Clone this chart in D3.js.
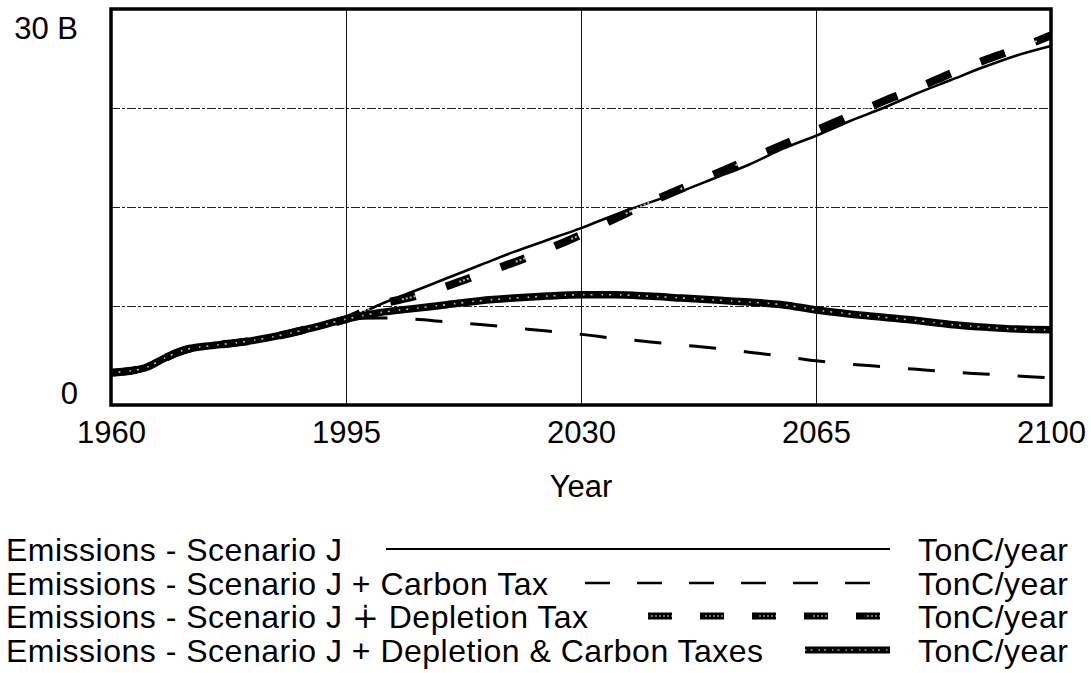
<!DOCTYPE html>
<html>
<head>
<meta charset="utf-8">
<script src="https://cdn.jsdelivr.net/npm/d3@7"></script>
<style>
  html, body { margin: 0; padding: 0; background: #fff; }
  svg { display: block; }
  text { font-family: "Liberation Sans", Arial, Helvetica, sans-serif; fill: #000; }
</style>
</head>
<body>
<svg id="chart" width="1091" height="673"></svg>
<script>
// Emissions scenarios, billions of tonnes of carbon per year
const years = [1960, 1963, 1965, 1968, 1970, 1972, 1975, 1980, 1985, 1990, 1995,
  2000, 2005, 2010, 2015, 2020, 2025, 2030, 2035, 2040, 2045, 2050,
  2055, 2060, 2065, 2070, 2075, 2080, 2085, 2090, 2095, 2100];

const emissionsJ = [2.45, 2.6, 2.8, 3.55, 4.0, 4.3, 4.5, 4.8, 5.25, 5.85, 6.5,
  7.6, 8.6, 9.6, 10.6, 11.6, 12.5, 13.4, 14.4, 15.3, 16.2, 17.2,
  18.2, 19.4, 20.4, 21.5, 22.5, 23.6, 24.6, 25.6, 26.5, 27.2];

const emissionsCarbonTax = [2.45, 2.6, 2.8, 3.55, 4.0, 4.3, 4.5, 4.8, 5.25, 5.85, 6.5,
  6.6, 6.5, 6.3, 6.1, 5.85, 5.6, 5.35, 5.05, 4.8, 4.55, 4.3,
  4.0, 3.7, 3.35, 3.1, 2.9, 2.7, 2.5, 2.35, 2.2, 2.05];

const emissionsDepletionTax = [2.45, 2.6, 2.8, 3.55, 4.0, 4.3, 4.5, 4.8, 5.25, 5.85, 6.5,
  7.6, 8.2, 9.0, 9.9, 10.8, 11.8, 12.9, 14.1, 15.3, 16.4, 17.5,
  18.6, 19.7, 20.8, 21.9, 23.0, 24.0, 25.1, 26.1, 27.0, 28.0];

const emissionsBothTaxes = [2.45, 2.6, 2.8, 3.55, 4.0, 4.3, 4.5, 4.8, 5.25, 5.85, 6.5,
  7.0, 7.3, 7.6, 7.9, 8.1, 8.25, 8.35, 8.35, 8.25, 8.1, 7.95,
  7.8, 7.6, 7.2, 6.9, 6.65, 6.4, 6.1, 5.9, 5.75, 5.7];

const seriesNames = [
  "Emissions - Scenario J",
  "Emissions - Scenario J + Carbon Tax",
  "Emissions - Scenario J \u2214 Depletion Tax",
  "Emissions - Scenario J + Depletion & Carbon Taxes"
];
const unitLabel = "TonC/year";
const xTicks = [1960, 1995, 2030, 2065, 2100];
const yGrid = [7.5, 15, 22.5];
const yTickLabels = ["0", "30 B"];

// ---- layout ----
const svg = d3.select("#chart");
const plot = { left: 111, right: 1051, top: 9, bottom: 405 };

const x = d3.scaleLinear().domain([1960, 2100]).range([plot.left, plot.right]);
const y = d3.scaleLinear().domain([0, 30]).range([plot.bottom, plot.top]);

// grid
const grid = svg.append("g");
grid.selectAll("line.h").data(yGrid).join("line")
  .attr("x1", plot.left).attr("x2", plot.right)
  .attr("y1", d => Math.round(y(d)) + 0.5).attr("y2", d => Math.round(y(d)) + 0.5)
  .attr("stroke", "#222").attr("stroke-width", 1)
  .attr("stroke-dasharray", "9 2 3 2");
grid.selectAll("line.v").data(xTicks.slice(1, -1)).join("line")
  .attr("x1", d => Math.round(x(d)) + 0.5).attr("x2", d => Math.round(x(d)) + 0.5)
  .attr("y1", plot.top).attr("y2", plot.bottom)
  .attr("stroke", "#111").attr("stroke-width", 1);

// x axis labels
const xAxis = d3.axisBottom(x).tickValues(xTicks).tickSize(0).tickFormat(d3.format("d"));
const gx = svg.append("g").attr("transform", `translate(0,${plot.bottom})`).call(xAxis);
gx.select(".domain").remove();
gx.selectAll("text")
  .attr("y", 38).attr("dy", null)
  .style("font-size", "31px")
  .style("font-family", "\"Liberation Sans\", Arial, sans-serif");

// y axis labels (only the extremes are labelled)
const yAxis = d3.axisLeft(y).tickValues([0, 30]).tickSize(0)
  .tickFormat((d, i) => yTickLabels[i]);
const gy = svg.append("g").attr("transform", `translate(78,0)`).call(yAxis);
gy.select(".domain").remove();
gy.selectAll("text")
  .attr("x", 0)
  .attr("dy", d => d === 30 ? "0.95em" : "-0.05em")
  .style("font-size", "31px")
  .style("font-family", "\"Liberation Sans\", Arial, sans-serif");

// axis title
svg.append("text")
  .attr("x", (plot.left + plot.right) / 2).attr("y", 497)
  .attr("text-anchor", "middle").style("font-size", "31px")
  .text("Year");

// ---- series ----
const line = d3.line().x((d, i) => x(years[i])).y(d => y(d)).curve(d3.curveMonotoneX);
const lines = svg.append("g");

// Scenario J: thin solid
lines.append("path").attr("d", line(emissionsJ))
  .attr("fill", "none").attr("stroke", "#000").attr("stroke-width", 2.6);

// Carbon tax: thin dashes
lines.append("path").attr("d", line(emissionsCarbonTax))
  .attr("fill", "none").attr("stroke", "#000").attr("stroke-width", 3)
  .attr("stroke-dasharray", "27 28").attr("stroke-dashoffset", 18);

// Depletion tax: heavy hollow dashes
const depPath = line(emissionsDepletionTax);
lines.append("path").attr("d", depPath)
  .attr("fill", "none").attr("stroke", "#000").attr("stroke-width", 8)
  .attr("stroke-dasharray", "26 32");
lines.append("path").attr("d", depPath)
  .attr("fill", "none").attr("stroke", "#fff").attr("stroke-width", 2)
  .attr("stroke-dasharray", "2 2 2 2 2 2 2 2 2 2 2 2 2 34").attr("stroke-dashoffset", -2)
  .attr("opacity", 0.7);

// Depletion & carbon taxes: heavy speckled solid
const bothPath = line(emissionsBothTaxes);
lines.append("path").attr("d", bothPath)
  .attr("fill", "none").attr("stroke", "#000").attr("stroke-width", 7.5);
lines.append("path").attr("d", bothPath)
  .attr("fill", "none").attr("stroke", "#fff").attr("stroke-width", 1.6)
  .attr("stroke-dasharray", "1.5 6 2 9").attr("opacity", 0.75);

// frame
svg.append("rect")
  .attr("x", plot.left).attr("y", plot.top)
  .attr("width", plot.right - plot.left).attr("height", plot.bottom - plot.top)
  .attr("fill", "none").attr("stroke", "#000").attr("stroke-width", 3.5);

// ---- legend ----
const legendRows = [561, 595, 628, 662];
const legendStart = [386, 585, 648, 805];
const legendEnd = 890;
const legend = svg.append("g").style("font-size", "32px").style("letter-spacing", "0.5px");

seriesNames.forEach((name, i) => {
  const base = legendRows[i];
  const mid = base - 12;
  legend.append("text").attr("x", 6).attr("y", base).text(name);
  legend.append("text").attr("x", 918).attr("y", base).text(unitLabel);
  const seg = legend.append("line")
    .attr("x1", legendStart[i]).attr("x2", legendEnd)
    .attr("y1", mid).attr("y2", mid).attr("stroke", "#000");
  if (i === 0) seg.attr("stroke-width", 2.2);
  if (i === 1) seg.attr("stroke-width", 2.6).attr("stroke-dasharray", "25 27");
  if (i === 2) {
    seg.attr("stroke-width", 7).attr("stroke-dasharray", "24 28");
    legend.append("line")
      .attr("x1", legendStart[i]).attr("x2", legendEnd)
      .attr("y1", mid).attr("y2", mid)
      .attr("stroke", "#fff").attr("stroke-width", 1.5).attr("opacity", 0.6)
      .attr("stroke-dasharray", "0 3 2 2 2 2 2 2 2 2 2 2 2 29");
  }
  if (i === 3) {
    seg.attr("stroke-width", 7);
    legend.append("line")
      .attr("x1", legendStart[i]).attr("x2", legendEnd)
      .attr("y1", mid).attr("y2", mid)
      .attr("stroke", "#fff").attr("stroke-width", 1.4).attr("opacity", 0.6)
      .attr("stroke-dasharray", "1.5 4 2 6");
  }
});
</script>
</body>
</html>
